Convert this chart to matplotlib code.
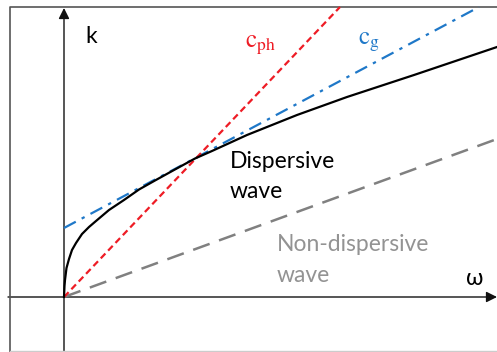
import matplotlib
matplotlib.use('Agg')
import matplotlib.pyplot as plt
from matplotlib.patches import FancyArrowPatch

plt.rcParams['mathtext.fontset'] = 'stix'

# dispersion curve k(omega) (arbitrary units)
omega = [0, 0.5, 1, 2.5, 5, 8, 12, 18, 25, 32, 45, 60, 75, 91, 110, 131,
         148, 183, 233, 283, 350, 433]
k_disp = [0, 11, 17, 29, 38, 47, 54, 63, 70, 76, 87, 97, 107.5, 116.5, 127,
          138.5, 146, 162, 182, 200, 222, 250]

# straight lines: phase velocity, group velocity (tangent), non-dispersive
omega_ph = [0, 276]
k_ph = [0, 290]
omega_g = [0, 415]
k_g = [69, 290]
omega_nd = [0, 433]
k_nd = [0, 158]

fig = plt.figure(figsize=(4.97, 3.52), dpi=100)
ax = fig.add_axes([0, 0, 1, 1])
ax.set_xlim(-64, 433)
ax.set_ylim(-55, 297)
ax.axis('off')

# outer frame
ax.plot([-54, -54, 440], [-60, 290, 290], color='#555555', lw=1.2, clip_on=False)
ax.plot([-54, 440], [-54, -54], color='#cccccc', lw=1.0)

# axes with arrows
ax.add_patch(FancyArrowPatch((-56, 0), (433, 0), arrowstyle='-|>', mutation_scale=16,
                             color='#111111', lw=1.0, shrinkA=0, shrinkB=0))
ax.add_patch(FancyArrowPatch((0, -60), (0, 289), arrowstyle='-|>', mutation_scale=16,
                             color='#111111', lw=1.0, shrinkA=0, shrinkB=0))

ax.plot(omega_nd, k_nd, color='#808080', lw=1.8, dashes=(7, 4))
ax.plot(omega_g, k_g, color='#1f78c8', lw=1.6, dashes=(6, 3, 1.5, 3))
ax.plot(omega_ph, k_ph, color='#ee1c25', lw=1.6, dashes=(3, 1.8))
ax.plot(omega, k_disp, color='black', lw=1.6, solid_joinstyle='round')

fs = 16.5
ax.text(21, 254, 'k', fontsize=fs, family='Lato', ha='left', va='baseline')
ax.text(402, 12, 'ω', fontsize=fs, family='Lato', ha='left', va='baseline')
ax.text(181, 249, r'$\mathrm{c}_{\mathrm{ph}}$', fontsize=18, color='#ee1c25',
        ha='left', va='baseline')
ax.text(294, 252, r'$\mathrm{c}_{\mathrm{g}}$', fontsize=18, color='#1f78c8',
        ha='left', va='baseline')
ax.text(166, 129, 'Dispersive', fontsize=fs, family='Lato', ha='left', va='baseline')
ax.text(166, 99, 'wave', fontsize=fs, family='Lato', ha='left', va='baseline')
ax.text(213, 46, 'Non-dispersive', fontsize=fs, family='Lato', color='#939393',
        ha='left', va='baseline')
ax.text(213, 15, 'wave', fontsize=fs, family='Lato', color='#939393',
        ha='left', va='baseline')

fig.savefig('out.png', dpi=100)
